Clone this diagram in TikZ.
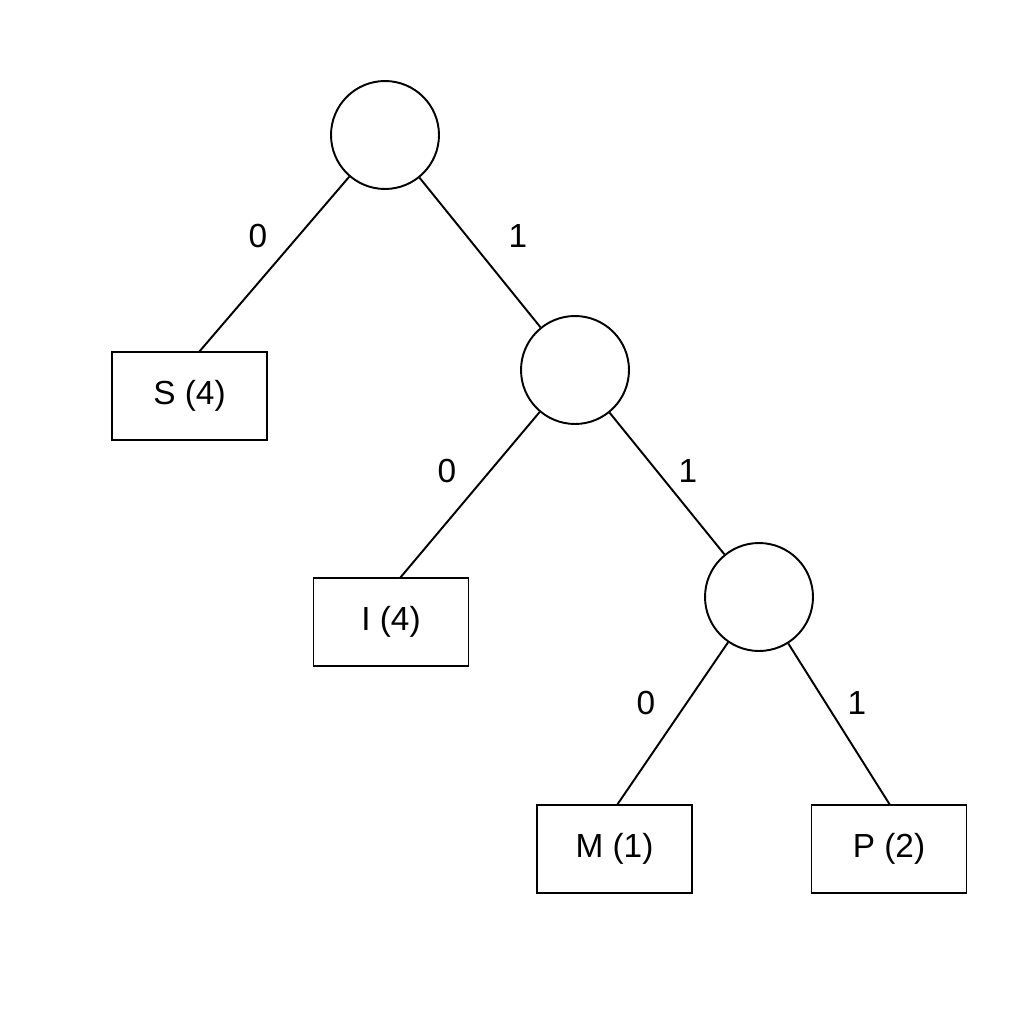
\documentclass[tikz,border=0pt]{standalone}
\usepackage{fontspec}
\setmainfont{Liberation Sans}
\begin{document}
\begin{tikzpicture}[x=0.02cm,y=-0.02cm,line width=1.1pt,
  inner/.style={circle,draw,minimum size=2.16cm,inner sep=0pt},
  leaf/.style={rectangle,draw,minimum width=3.1cm,minimum height=1.76cm,font=\fontsize{19}{22}\selectfont},
  lbl/.style={font=\fontsize{19}{22}\selectfont}]
\useasboundingbox (0,0) rectangle (1024,1024);
\node[inner] (r) at (385,135) {};
\node[inner] (a) at (575,370) {};
\node[inner] (b) at (759,597) {};
\node[leaf] (S) at (189.5,396) {S (4)};
\node[leaf] (I) at (391,622) {I (4)};
\node[leaf] (M) at (614.5,849) {M (1)};
\node[leaf] (P) at (889,849) {P (2)};
\coordinate (sT) at (199,352);
\coordinate (iT) at (400,578);
\coordinate (mT) at (617,805);
\coordinate (pT) at (890,805);
\draw (r) -- (sT);
\draw (r) -- (a);
\draw (a) -- (iT);
\draw (a) -- (b);
\draw (b) -- (mT);
\draw (b) -- (pT);
\node[lbl] (l1) at (258,236) {0};
\node[lbl] (l2) at (518,236) {1};
\node[lbl] (l3) at (447,471) {0};
\node[lbl] (l4) at (688,471) {1};
\node[lbl] (l5) at (646,703) {0};
\node[lbl] (l6) at (857,703) {1};
\end{tikzpicture}
\end{document}
